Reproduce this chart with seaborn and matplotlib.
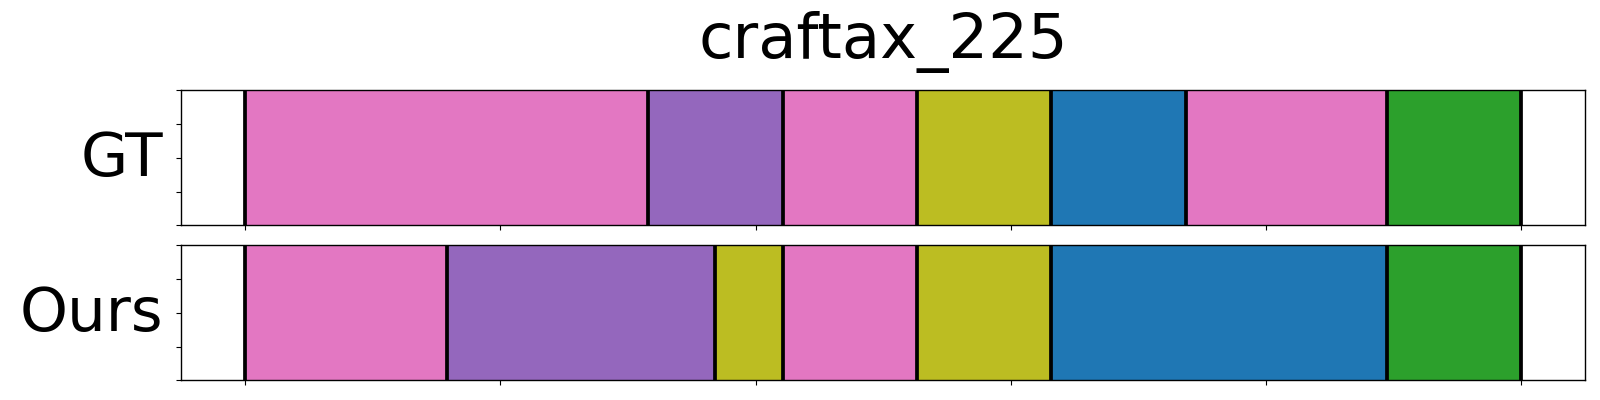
import numpy as np
import pandas as pd
import matplotlib
matplotlib.use("Agg")
import matplotlib.pyplot as plt
import seaborn as sns

# ---- data ----
title = "craftax_225"
row_labels = ["GT", "Ours"]

gt_segments = ["pink", "purple", "pink", "olive", "blue", "pink", "green"]
gt_durations = [6, 2, 2, 2, 2, 3, 2]

ours_segments = ["pink", "purple", "olive", "pink", "olive", "blue", "green"]
ours_durations = [3, 4, 1, 2, 2, 5, 2]

palette = {
    "pink": "#e377c2",
    "purple": "#9467bd",
    "olive": "#bcbd22",
    "blue": "#1f77b4",
    "green": "#2ca02c",
}

xticks = [0.0, 0.2, 0.4, 0.6, 0.8, 1.0]
yticks = [0.0, 0.25, 0.5, 0.75, 1.0]

fig = plt.figure(figsize=(16, 4), dpi=100)
ax1 = fig.add_axes([0.1133, 0.4368, 0.8775, 0.3375])
ax2 = fig.add_axes([0.1133, 0.0493, 0.8775, 0.3375])

for ax, label, segs, durs in [(ax1, row_labels[0], gt_segments, gt_durations),
                              (ax2, row_labels[1], ours_segments, ours_durations)]:
    durs = np.asarray(durs, dtype=float)
    edges = np.concatenate([[0.0], np.cumsum(durs)]) / durs.sum()
    df = pd.DataFrame({"start": edges[:-1], "segment": segs})
    sns.histplot(data=df, x="start", hue="segment", bins=edges, palette=palette,
                 multiple="layer", stat="count", alpha=1.0, linewidth=0.6,
                 edgecolor=None, legend=False, ax=ax)
    for p in ax.patches:
        p.set_edgecolor(p.get_facecolor())
    for e in edges:
        ax.axvline(e, color="black", linewidth=2.7, zorder=5)
    ax.set_xlim(-0.05, 1.05)
    ax.set_ylim(0, 1)
    ax.set_xticks(xticks)
    ax.set_yticks(yticks)
    ax.set_xticklabels([])
    ax.set_yticklabels([])
    ax.set_xlabel("")
    ax.set_ylabel(label, rotation=0, fontsize=44, ha="right", va="center")
    ax.yaxis.set_label_coords(-0.0130, 0.49)
    for s in ax.spines.values():
        s.set_color("black")
        s.set_linewidth(1.0)

ax1.set_title(title, fontsize=45, pad=23)

fig.savefig("out.png", dpi=100)
